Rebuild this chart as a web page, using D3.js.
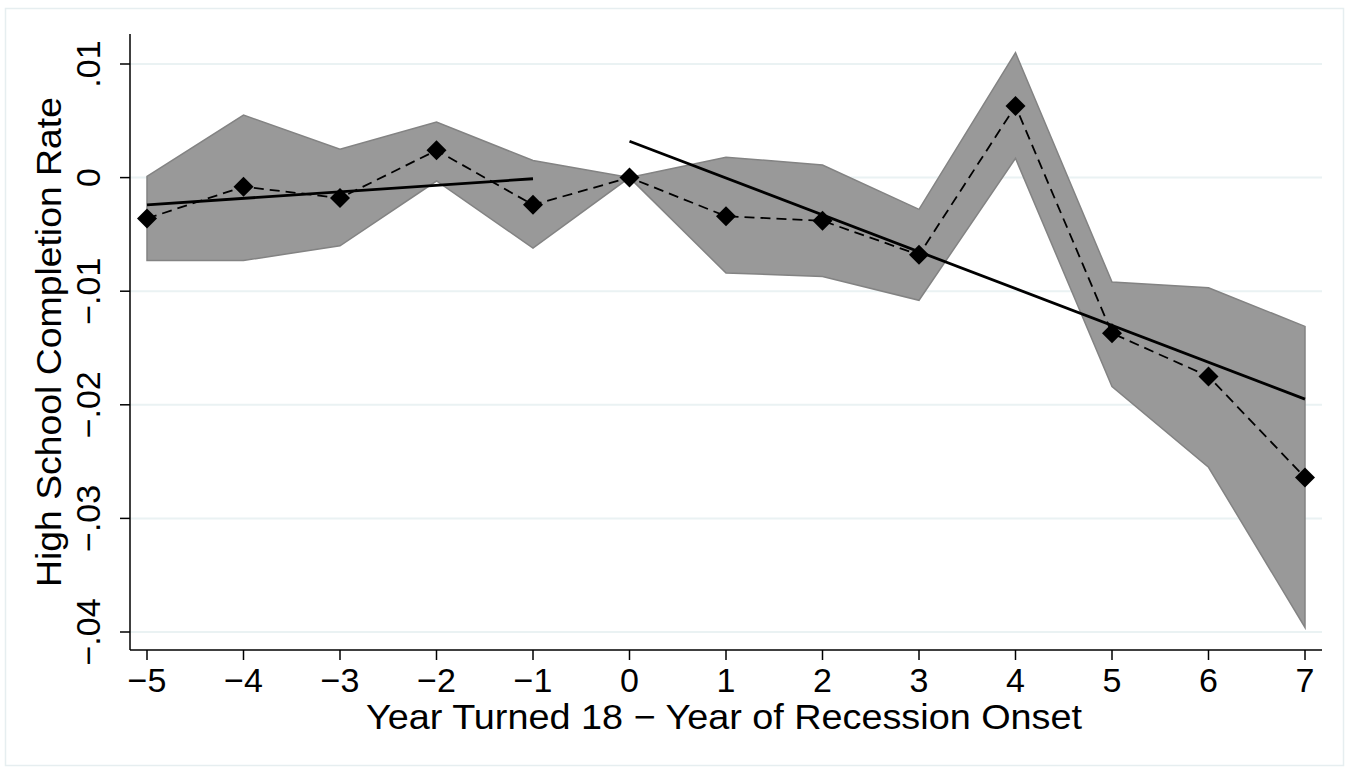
<!DOCTYPE html>
<html>
<head>
<meta charset="utf-8">
<title>High School Completion Rate</title>
<script src="https://cdn.jsdelivr.net/npm/d3@7"></script>
<style>
  body { margin: 0; background: #fff; }
  svg text { font-family: "Liberation Sans", Arial, Helvetica, sans-serif; fill: #000; }
</style>
</head>
<body>
<script>
// event-time (year turned 18 - recession onset year)
var years = [-5, -4, -3, -2, -1, 0, 1, 2, 3, 4, 5, 6, 7];
var estimates = [-0.0036, -0.0008, -0.0018, 0.0024, -0.0024, 0, -0.0034, -0.0038, -0.0068, 0.0063, -0.0137, -0.0175, -0.0264];
var ciUpper = [0.0001, 0.0055, 0.0025, 0.0049, 0.0015, 0, 0.0018, 0.0011, -0.0028, 0.0110, -0.0092, -0.0097, -0.0131];
var ciLower = [-0.0073, -0.0073, -0.0060, -0.0003, -0.0062, 0, -0.0084, -0.0087, -0.0108, 0.0017, -0.0184, -0.0255, -0.0396];
// linear fits before / after onset (endpoints)
var fitPre = [{x: -5, y: -0.0024}, {x: -1, y: -0.0001}];
var fitPost = [{x: 0, y: 0.0032}, {x: 7, y: -0.0195}];
var yTicks = [-0.04, -0.03, -0.02, -0.01, 0, 0.01];
var yTickLabels = ["\u2212.04", "\u2212.03", "\u2212.02", "\u2212.01", "0", ".01"];

var W = 1350, H = 773;
var plotL = 130, plotR = 1322, plotT = 34, plotB = 650;

var svg = d3.select("body").append("svg")
  .attr("width", W).attr("height", H);

// outer frame
svg.append("rect")
  .attr("x", 5.5).attr("y", 8.5)
  .attr("width", 1338).attr("height", 757)
  .attr("fill", "#fff").attr("stroke", "#e6eef0").attr("stroke-width", 1.5);

var x = d3.scaleLinear().domain([-5, 7]).range([147, 1305]);
var y = d3.scaleLinear().domain([-0.04, 0.01]).range([632, 64]);

// gridlines
svg.append("g").selectAll("line")
  .data(yTicks).enter().append("line")
  .attr("x1", plotL).attr("x2", plotR)
  .attr("y1", function(d) { return y(d); })
  .attr("y2", function(d) { return y(d); })
  .attr("stroke", "#eaf2f3").attr("stroke-width", 2);

// confidence band
var area = d3.area()
  .x(function(d, i) { return x(years[i]); })
  .y0(function(d, i) { return y(ciLower[i]); })
  .y1(function(d, i) { return y(ciUpper[i]); });

svg.append("path")
  .datum(years)
  .attr("d", area)
  .attr("fill", "#999999")
  .attr("stroke", "#838383")
  .attr("stroke-width", 1.5)
  .attr("stroke-linejoin", "miter");

// dashed estimate line
var line = d3.line()
  .x(function(d, i) { return x(years[i]); })
  .y(function(d) { return y(d); });

svg.append("path")
  .datum(estimates)
  .attr("d", line)
  .attr("fill", "none")
  .attr("stroke", "#000")
  .attr("stroke-width", 1.8)
  .attr("stroke-dasharray", "10,6");

// fitted lines
var fitLine = d3.line()
  .x(function(d) { return x(d.x); })
  .y(function(d) { return y(d.y); });

[fitPre, fitPost].forEach(function(f) {
  svg.append("path")
    .datum(f)
    .attr("d", fitLine)
    .attr("fill", "none")
    .attr("stroke", "#000")
    .attr("stroke-width", 2.8);
});

// diamond markers
svg.append("g").selectAll("path")
  .data(estimates).enter().append("path")
  .attr("d", d3.symbol().type(d3.symbolSquare).size(200))
  .attr("transform", function(d, i) {
    return "translate(" + x(years[i]) + "," + y(d) + ") rotate(45)";
  })
  .attr("fill", "#000");

// y axis
svg.append("line")
  .attr("x1", plotL).attr("x2", plotL)
  .attr("y1", plotT).attr("y2", plotB)
  .attr("stroke", "#000").attr("stroke-width", 1.5);

svg.append("g").selectAll("line")
  .data(yTicks).enter().append("line")
  .attr("x1", plotL - 10).attr("x2", plotL)
  .attr("y1", function(d) { return y(d); })
  .attr("y2", function(d) { return y(d); })
  .attr("stroke", "#000").attr("stroke-width", 1.5);

svg.append("g").selectAll("text")
  .data(yTicks).enter().append("text")
  .attr("transform", function(d) { return "translate(100," + y(d) + ") rotate(-90)"; })
  .attr("text-anchor", "middle")
  .attr("font-size", 34)
  .text(function(d, i) { return yTickLabels[i]; });

svg.append("text")
  .attr("transform", "translate(61," + ((plotT + plotB) / 2) + ") rotate(-90)")
  .attr("text-anchor", "middle")
  .attr("font-size", 35)
  .attr("textLength", 490)
  .attr("lengthAdjust", "spacingAndGlyphs")
  .text("High School Completion Rate");

// x axis
svg.append("line")
  .attr("x1", plotL).attr("x2", plotR)
  .attr("y1", plotB).attr("y2", plotB)
  .attr("stroke", "#000").attr("stroke-width", 1.5);

svg.append("g").selectAll("line")
  .data(years).enter().append("line")
  .attr("x1", function(d) { return x(d); })
  .attr("x2", function(d) { return x(d); })
  .attr("y1", plotB).attr("y2", plotB + 10)
  .attr("stroke", "#000").attr("stroke-width", 1.5);

svg.append("g").selectAll("text")
  .data(years).enter().append("text")
  .attr("x", function(d) { return x(d); })
  .attr("y", 692)
  .attr("text-anchor", "middle")
  .attr("font-size", 34)
  .text(function(d) { return d < 0 ? "\u2212" + Math.abs(d) : String(d); });

svg.append("text")
  .attr("x", 724)
  .attr("y", 729)
  .attr("text-anchor", "middle")
  .attr("font-size", 35)
  .attr("textLength", 716)
  .attr("lengthAdjust", "spacingAndGlyphs")
  .text("Year Turned 18 \u2212 Year of Recession Onset");
</script>
</body>
</html>
